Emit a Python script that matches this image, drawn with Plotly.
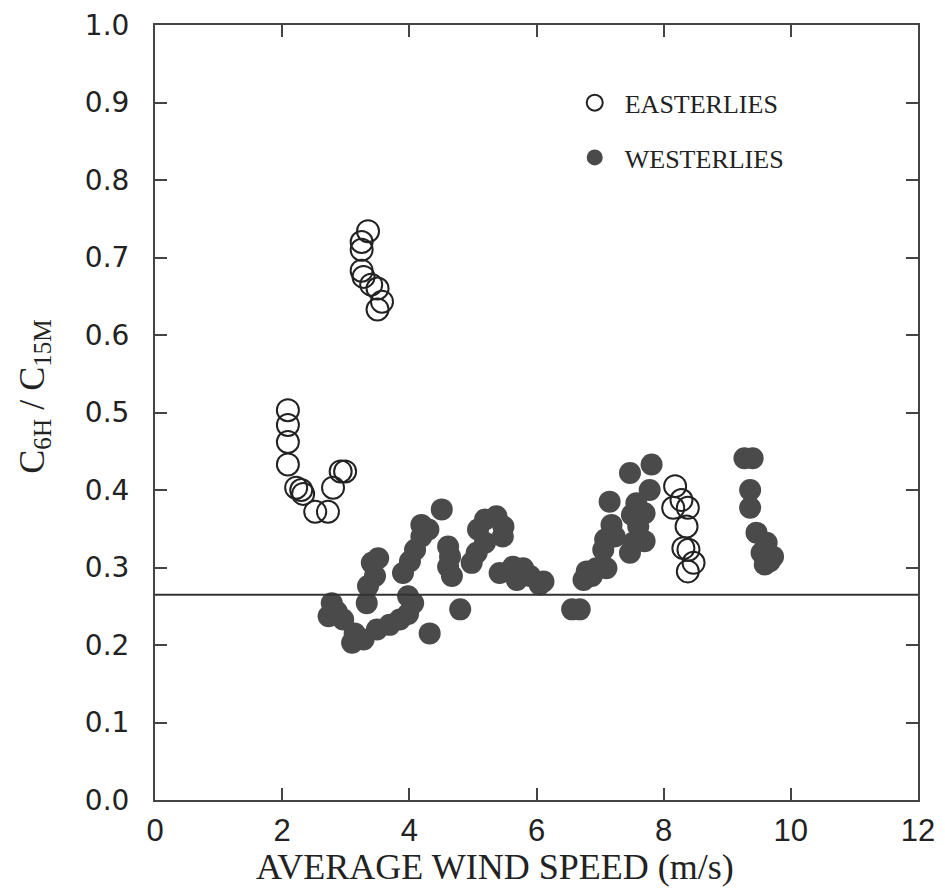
import plotly.graph_objects as go

# Easterlies (open circles)
east_x = [2.09, 2.09, 2.09, 2.09, 2.22, 2.30, 2.33, 2.52, 2.72, 2.80, 2.92, 2.99,
          3.35, 3.25, 3.25, 3.25, 3.28, 3.40, 3.50, 3.57, 3.50,
          8.18, 8.28, 8.15, 8.38, 8.36, 8.31, 8.39, 8.47, 8.38]
east_y = [0.503, 0.484, 0.462, 0.433, 0.403, 0.400, 0.395, 0.372, 0.372, 0.403, 0.424, 0.424,
          0.734, 0.720, 0.710, 0.683, 0.675, 0.665, 0.660, 0.643, 0.633,
          0.405, 0.387, 0.377, 0.377, 0.353, 0.325, 0.323, 0.306, 0.295]

# Westerlies (filled circles)
west_x = [2.78, 2.73, 2.86, 2.96, 3.14, 3.10, 3.28, 3.49, 3.69, 3.85, 3.98, 3.98, 4.06,
          3.33, 3.35, 3.46, 3.51, 3.41,
          3.90, 4.01, 4.09, 4.19, 4.30, 4.19,
          4.32, 4.51,
          4.61, 4.64, 4.61, 4.67,
          4.98, 5.06, 5.19, 5.08, 5.19, 5.37, 5.48, 5.47,
          5.42, 5.63, 5.79, 5.69, 5.90, 6.11, 6.05,
          4.80, 6.56, 6.68,
          7.81, 7.47, 7.78, 7.15, 7.57, 7.70, 7.50, 7.18, 7.60, 7.08, 7.23, 7.52, 7.70,
          7.05, 7.47, 6.79, 6.94, 7.10, 6.74, 6.87,
          9.27, 9.40, 9.36, 9.36, 9.46, 9.62, 9.54, 9.67, 9.72, 9.59]
west_y = [0.254, 0.237, 0.243, 0.233, 0.215, 0.203, 0.207, 0.220, 0.226, 0.233, 0.240, 0.263, 0.254,
          0.254, 0.276, 0.289, 0.312, 0.306,
          0.293, 0.308, 0.323, 0.340, 0.349, 0.355,
          0.215, 0.375,
          0.327, 0.314, 0.301, 0.289,
          0.306, 0.319, 0.332, 0.349, 0.362, 0.366, 0.353, 0.340,
          0.293, 0.301, 0.299, 0.284, 0.289, 0.282, 0.278,
          0.246, 0.246, 0.246,
          0.433, 0.422, 0.400, 0.385, 0.383, 0.370, 0.368, 0.355, 0.353, 0.336, 0.340, 0.332, 0.334,
          0.323, 0.319, 0.295, 0.299, 0.299, 0.284, 0.289,
          0.441, 0.441, 0.400, 0.377, 0.345, 0.332, 0.319, 0.308, 0.314, 0.304]

ref_value = 0.265

x_ticks = [0, 2, 4, 6, 8, 10, 12]
y_ticks = [0.0, 0.1, 0.2, 0.3, 0.4, 0.5, 0.6, 0.7, 0.8, 0.9, 1.0]
y_ticklabels = ["0.0", "0.1", "0.2", "0.3", "0.4", "0.5", "0.6", "0.7", "0.8", "0.9", "1.0"]

x_title = "AVERAGE WIND SPEED (m/s)"
y_title = "C<sub>6H</sub> / C<sub>15M</sub>"

fig = go.Figure()

fig.add_trace(go.Scatter(
    x=east_x, y=east_y, mode="markers", name="EASTERLIES", legendgroup="e",
    marker=dict(symbol="circle-open", size=22, color="#222222", line=dict(width=2, color="#222222")),
))
fig.add_trace(go.Scatter(
    x=west_x, y=west_y, mode="markers", name="WESTERLIES", legendgroup="w",
    marker=dict(symbol="circle", size=22, color="#4a4a4a", line=dict(width=0)),
))

fig.add_shape(type="line", xref="x", yref="y", x0=0, x1=12, y0=ref_value, y1=ref_value,
              line=dict(color="#333333", width=2))

axis_common = dict(showgrid=False, zeroline=False, showline=True, linecolor="#444444",
                   linewidth=2, mirror="ticks", ticks="inside", ticklen=12, tickwidth=1.5,
                   tickcolor="#444444", automargin=False, ticklabeloverflow="allow")

fig.update_xaxes(range=[0, 12], tickvals=x_ticks, ticktext=[str(v) for v in x_ticks],
                 tickfont=dict(family="Liberation Sans, Arial, sans-serif", size=31, color="#222222"),
                 ticklabelstandoff=2,
                 **axis_common)
fig.update_yaxes(range=[0, 1.0], tickvals=y_ticks, ticktext=y_ticklabels,
                 tickfont=dict(family="DejaVu Sans, sans-serif", size=28, color="#222222"),
                 ticklabelstandoff=18,
                 **axis_common)

serif = "Liberation Serif, DejaVu Serif, serif"
fig.add_annotation(text=x_title, xref="paper", yref="paper", x=0.4456, y=-0.087,
                   xanchor="center", yanchor="middle", showarrow=False,
                   font=dict(family=serif, size=36, color="#222222"))
fig.add_annotation(text=y_title, xref="paper", yref="paper", x=-0.159, y=0.52,
                   xanchor="center", yanchor="middle", showarrow=False, textangle=-90,
                   font=dict(family=serif, size=36, color="#222222"))

fig.update_layout(
    width=945, height=889,
    margin=dict(l=147, r=35, t=17, b=97),
    plot_bgcolor="white", paper_bgcolor="white",
    showlegend=True,
    legend=dict(x=0.537, y=0.93, xanchor="left", yanchor="top",
                bgcolor="rgba(0,0,0,0)", tracegroupgap=18, itemwidth=50,
                font=dict(family=serif, size=26, color="#222222")),
)

fig.write_html("out.html")
